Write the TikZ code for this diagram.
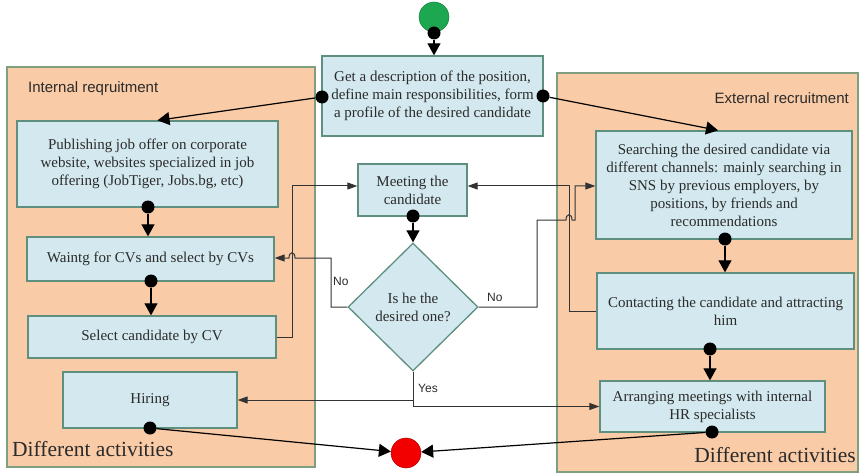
\documentclass[tikz,border=0pt]{standalone}
\usepackage{fontspec}
\setmainfont{Liberation Serif}
\setsansfont{Liberation Sans}
\newfontfamily\boxfont{Liberation Serif}
\newfontfamily\lanefont{Liberation Sans}
\usetikzlibrary{arrows.meta,shapes.geometric}
\definecolor{boxfill}{HTML}{D3E9EF}
\definecolor{boxline}{HTML}{5E8F7F}
\definecolor{panelfill}{HTML}{F9CBA6}
\definecolor{panelline}{HTML}{7FA080}
\definecolor{startgreen}{HTML}{1DA750}
\definecolor{endred}{HTML}{F20000}
\definecolor{textc}{HTML}{2B2B2B}
\begin{document}
\begin{tikzpicture}[x=1pt,y=-1pt,
  box/.style={draw=boxline, line width=1.3pt, fill=boxfill, align=center,
    font=\boxfont\fontsize{15}{18}\selectfont, inner sep=2pt, text=textc},
  panel/.style={draw=panelline, line width=1.3pt, fill=panelfill, inner sep=0pt},
  dotn/.style={circle, fill=black, minimum size=13pt, inner sep=0pt},
  flow/.style={draw=black, line width=1.2pt, -{Triangle[length=12pt,width=13pt]}},
  link/.style={draw=black!80, line width=1pt, -{Triangle[length=10pt,width=7pt]}},
  lanelabel/.style={font=\lanefont\fontsize{15}{17}\selectfont, text=textc, inner sep=0pt},
  biglabel/.style={font=\boxfont\fontsize{21.5}{24}\selectfont, text=textc, inner sep=0pt},
  guard/.style={font=\lanefont\fontsize{12}{14}\selectfont, text=textc, inner sep=0pt},
]
\useasboundingbox (0,0) rectangle (859,473);
\fill[white] (0,0) rectangle (859,473);

% swimlanes
\node[panel, minimum width=308pt, minimum height=400pt] (lane1) at (161,267) {};
\node[panel, minimum width=301pt, minimum height=399pt] (lane2) at (707.5,272.5) {};
\node[lanelabel, anchor=west] (lab1) at (28,89) {Internal reqruitment};
\node[lanelabel, anchor=east] (lab2) at (849,98) {External recruitment};
\node[biglabel, anchor=west] (act1) at (12,449) {Different activities};
\node[biglabel, anchor=east] (act2) at (856,455) {Different activities};

% start and end
\node[circle, fill=startgreen, draw=startgreen!70!black, line width=0.4pt,
  minimum size=30pt, inner sep=0pt] (start) at (434,17) {};
\node[circle, fill=endred, draw=endred!70!black, line width=0.4pt,
  minimum size=30pt, inner sep=0pt] (endc) at (406,453) {};

% activities
\node[box, minimum width=221pt, minimum height=80pt] (top) at (432.5,96)
  {Get a description of the position,\\define main responsibilities, form\\a profile of the desired candidate};
\node[box, minimum width=261pt, minimum height=86pt] (pub) at (147.5,164)
  {Publishing job offer on corporate\\website, websites specialized in job\\offering (JobTiger, Jobs.bg, etc)};
\node[box, minimum width=247pt, minimum height=44pt] (wait) at (150.5,259)
  {Waintg for CVs and select by CVs};
\node[box, minimum width=248pt, minimum height=42pt] (sel) at (152,337)
  {Select candidate by CV};
\node[box, minimum width=174pt, minimum height=56pt] (hire) at (150,400)
  {Hiring};
\node[box, minimum width=109pt, minimum height=52pt] (meet) at (412.5,190)
  {Meeting the\\candidate};
\node[box, shape=diamond, minimum width=130pt, minimum height=128pt, inner sep=0pt] (dia) at (413,307)
  {Is he the\\desired one?};
\node[box, minimum width=256pt, minimum height=108pt] (search) at (724,185)
  {Searching the desired candidate via\\different channels: mainly searching in\\SNS by previous employers, by\\positions, by friends and\\recommendations};
\node[box, minimum width=257pt, minimum height=76pt] (cont) at (725.5,311)
  {Contacting the candidate and attracting\\him};
\node[box, minimum width=225pt, minimum height=51pt] (arr) at (712.5,406.5)
  {Arranging meetings with internal\\HR specialists};

% source dots
\node[dotn] (d0) at (434,33) {};
\node[dotn] (dTL) at (322,97) {};
\node[dotn] (dTR) at (543,96) {};
\node[dotn] (dPub) at (148,207) {};
\node[dotn] (dWait) at (151,281) {};
\node[dotn] (dHire) at (150,428) {};
\node[dotn] (dMeet) at (413,216) {};
\node[dotn] (dSearch) at (725,239) {};
\node[dotn] (dCont) at (710,349) {};
\node[dotn] (dArr) at (712,432) {};

% routing points
\coordinate (j1) at (292,186);
\coordinate (j2) at (575,186);
\coordinate (j3) at (569,186);

% main flow
\draw[flow] (d0) -- (d0 |- top.north);
\draw[flow] (dTL) -- ([xshift=10pt]pub.north);
\draw[flow] (dTR) -- ([xshift=-6pt]search.north);
\draw[flow] (dPub) -- (dPub |- wait.north);
\draw[flow] (dWait) -- (dWait |- sel.north);
\draw[flow] (dMeet) -- (dia.north);
\draw[flow] (dSearch) -- (dSearch |- cont.north);
\draw[flow] (dCont) -- (dCont |- arr.north);
\draw[flow] (dHire) -- (endc);
\draw[flow] (dArr) -- (endc);

% connections around the decision
\draw[link] (sel.east) -| (j1) -- (meet.west |- j1);
\draw[link] (cont.west) -| (j3) -- (meet.east |- j3);
\draw[link] (dia.west) -| (331,258) -- (295,258)
  .. controls (295,251) and (289,251) .. (289,258) -- (wait.east |- 0,258);
\draw[link] (dia.east) -| (537,220) -- (566,220)
  .. controls (566,213) and (572,213) .. (572,220) -- (575,220) -- (j2) -- (search.west |- j2);
\draw[link] (dia.south) |- (hire.east);
\draw[link] (dia.south) |- (arr.west);

\node[guard, anchor=west] (no1) at (333,281) {No};
\node[guard, anchor=west] (no2) at (487,297) {No};
\node[guard, anchor=west] (yes) at (418,388) {Yes};
\end{tikzpicture}
\end{document}
